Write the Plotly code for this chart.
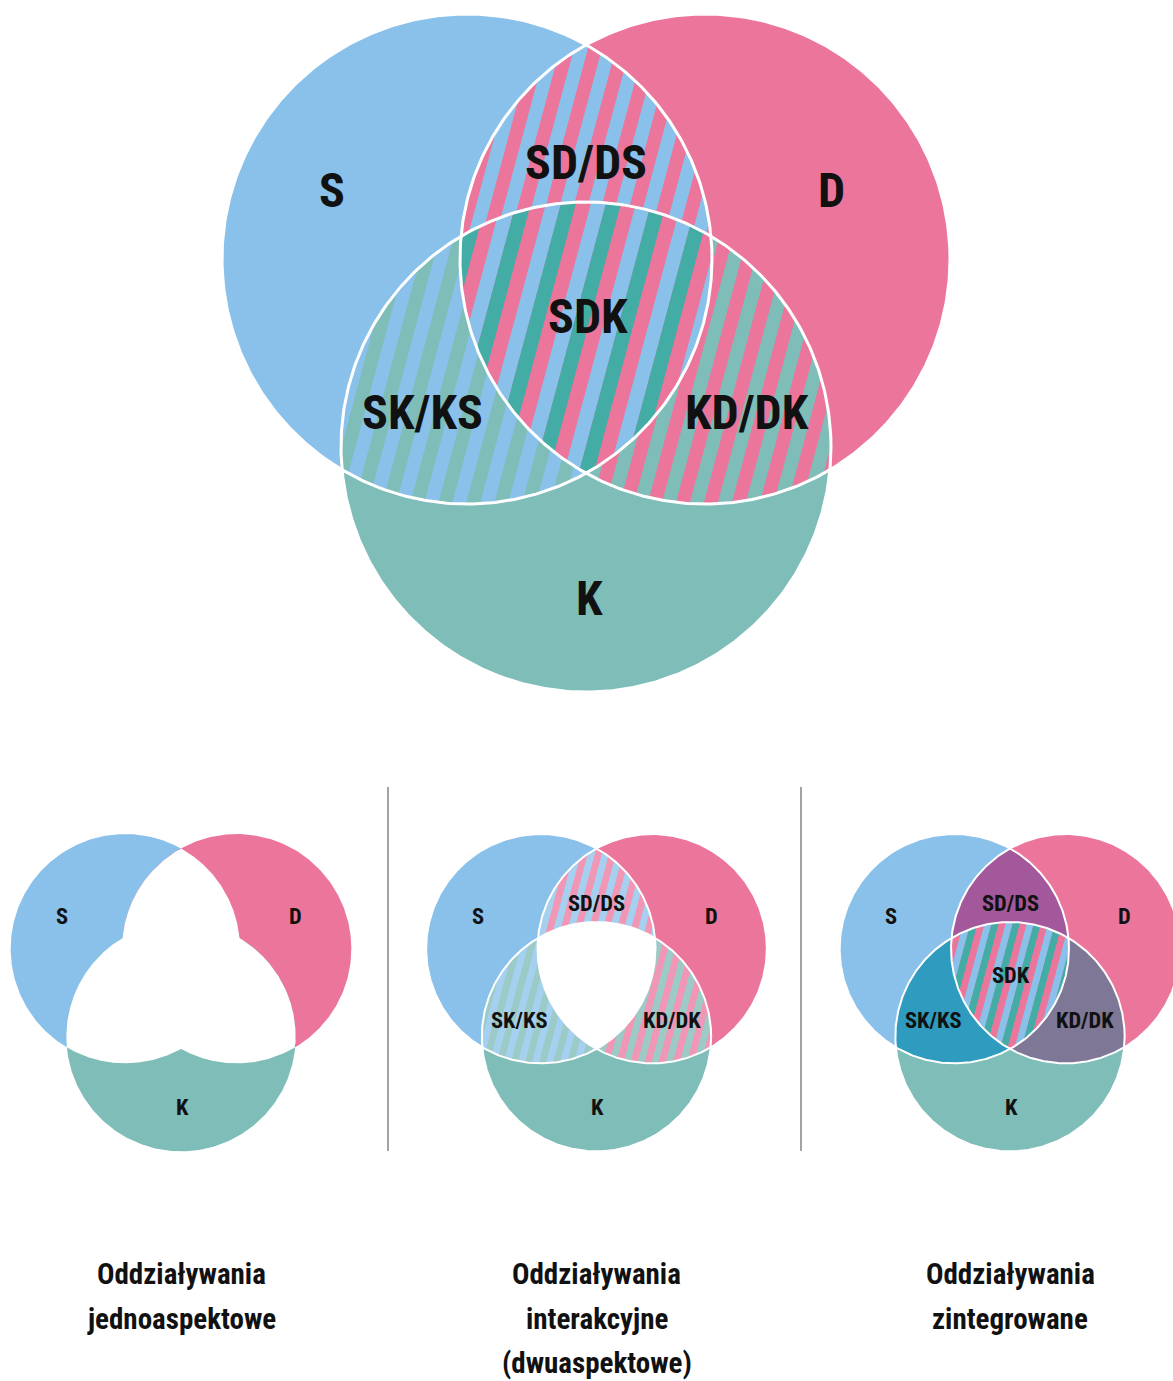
import numpy as np
import plotly.graph_objects as go

# ---------------- data ----------------
SET_LABELS = ["S", "D", "K"]                      # single aspects
PAIR_LABELS = ["SD/DS", "SK/KS", "KD/DK"]         # two-aspect interactions
TRIPLE_LABEL = "SDK"                              # integrated interaction
PANEL_CAPTIONS = [
    ["Oddziaływania", "jednoaspektowe"],
    ["Oddziaływania", "interakcyjne", "(dwuaspektowe)"],
    ["Oddziaływania", "zintegrowane"],
]
PANEL_KINDS = ["single", "pairwise", "integrated"]

# ---------------- styles / geometry ----------------
W, H = 1173, 1381
FONT = "Roboto Condensed, Roboto, sans-serif"
TXT = "#111111"
BLUE, PINK, TEAL, DTEAL = "#8AC1EA", "#EC759C", "#7FBDB9", "#42ACA5"
LBLUE, LPINK, LTEAL = "#A6D0F0", "#F296B5", "#9CCBC7"
SOLID_PAIRS = ["#A2589A", "#2E9BBF", "#7E7795"]
SET_COLORS = [BLUE, PINK, TEAL]
PAIRS = [(0, 1), (0, 2), (1, 2)]

R_MAIN = 245
CENTER_OFF = [(-119, 0), (119, 0), (0, 188)]
SET_LABEL_OFF = [(-254, -69), (245, -69), (3, 339)]
PAIR_LABEL_OFF = [(0, -97), (-164, 153), (161, 153)]
TRIPLE_LABEL_OFF = (2, 57)

MAIN_ORIGIN, MAIN_SCALE = (586, 259), 1.0
SMALL_SCALE = 0.468
SMALL_CX = [181, 596.5, 1010]
SMALL_CY = 948.7
CAPTION_Y = [1274, 1319, 1363]
CAPTION_SIZE = 29
SEP_X = [388, 801]
SEP_Y = (787, 1151)

PHI = np.radians(15)
NVEC = np.array([np.cos(PHI), np.sin(PHI)])
VVEC = np.array([np.sin(PHI), -np.cos(PHI)])


def circle_xy(c, r, n=480):
    t = np.linspace(0, 2 * np.pi, n)
    return c[0] + r * np.cos(t), c[1] + r * np.sin(t)


def region_poly(discs, n=1440):
    P = np.mean([c for c, r in discs], axis=0)
    th = np.linspace(0, 2 * np.pi, n, endpoint=False)
    d = np.stack([np.cos(th), np.sin(th)], 1)
    t = np.full(n, np.inf)
    for c, r in discs:
        w = P - c
        b = d @ w
        cc = w @ w - r * r
        t = np.minimum(t, -b + np.sqrt(b * b - cc))
    return P + d * t[:, None]


def stripe_polys(discs, width, ncol):
    pts = region_poly(discs)
    u = pts @ NVEC
    umin, umax = u.min(), u.max()
    out = [[] for _ in range(ncol)]
    for k in range(int(np.floor(umin / width)), int(np.ceil(umax / width))):
        a, b = max(k * width, umin), min((k + 1) * width, umax)
        if b <= a:
            continue
        us = np.linspace(a, b, 14)
        lo = np.full(len(us), -np.inf)
        hi = np.full(len(us), np.inf)
        ok = np.ones(len(us), bool)
        for c, r in discs:
            cu, cv = c @ NVEC, c @ VVEC
            dd = r * r - (us - cu) ** 2
            ok &= dd >= 0
            h = np.sqrt(np.clip(dd, 0, None))
            lo = np.maximum(lo, cv - h)
            hi = np.minimum(hi, cv + h)
        ok &= hi >= lo
        if ok.sum() < 2:
            continue
        uu, l, hh = us[ok], lo[ok], hi[ok]
        p_lo = uu[:, None] * NVEC + l[:, None] * VVEC
        p_hi = uu[:, None] * NVEC + hh[:, None] * VVEC
        out[k % ncol].append(np.vstack([p_lo, p_hi[::-1]]))
    return out


def fill_trace(polys, color):
    xs, ys = [], []
    for p in polys:
        xs += list(p[:, 0]) + [p[0, 0], None]
        ys += list(p[:, 1]) + [p[0, 1], None]
    return go.Scatter(x=xs, y=ys, mode="lines", fill="toself", fillcolor=color,
                      line=dict(width=0, color=color), hoverinfo="skip")


def striped(discs, colors, width):
    tr = [fill_trace([region_poly(discs)], colors[0])]
    bands = stripe_polys(discs, width, len(colors))
    for i in range(1, len(colors)):
        if bands[i]:
            tr.append(fill_trace(bands[i], colors[i]))
    return tr


fig = go.Figure()
annotations = []


def add_label(text, x, y, size):
    annotations.append(dict(x=x, y=y, xref="x", yref="y", text="<b>%s</b>" % text,
                            showarrow=False, xanchor="center", yanchor="middle",
                            font=dict(family=FONT, size=size, color=TXT)))


def diagram(kind, origin, scale):
    centers = [np.array([origin[0] + dx * scale, origin[1] + dy * scale]) for dx, dy in CENTER_OFF]
    r = R_MAIN * scale
    discs = [(c, r) for c in centers]
    traces = []
    for i, c in enumerate(centers):
        x, y = circle_xy(c, r)
        traces.append(go.Scatter(x=x, y=y, mode="lines", fill="toself", fillcolor=SET_COLORS[i],
                                 line=dict(width=0, color=SET_COLORS[i]), hoverinfo="skip"))
    outline = False
    if kind == "single":
        for i, j in PAIRS:
            traces.append(fill_trace([region_poly([discs[i], discs[j]])], "white"))
    elif kind in ("main", "pairwise"):
        if kind == "main":
            pc = [(BLUE, PINK), (BLUE, TEAL), (PINK, TEAL)]
            w = 13.5
        else:
            pc = [(LBLUE, LPINK), (LBLUE, LTEAL), (LPINK, LTEAL)]
            w = 6.8
        for (i, j), cols in zip(PAIRS, pc):
            traces += striped([discs[i], discs[j]], cols, w)
        if kind == "main":
            traces += striped(discs, [PINK, BLUE, DTEAL], 14.5)
        else:
            traces.append(fill_trace([region_poly(discs)], "white"))
        outline = True
    else:
        for (i, j), col in zip(PAIRS, SOLID_PAIRS):
            traces.append(fill_trace([region_poly([discs[i], discs[j]])], col))
        traces += striped(discs, [PINK, BLUE, DTEAL], 6.8)
        outline = True
    if outline:
        for c in centers:
            x, y = circle_xy(c, r)
            traces.append(go.Scatter(x=x, y=y, mode="lines",
                                     line=dict(width=3 if kind == "main" else 2, color="white"),
                                     hoverinfo="skip"))
    for t in traces:
        fig.add_trace(t)

    size = 48 * scale
    for lab, (dx, dy) in zip(SET_LABELS, SET_LABEL_OFF):
        add_label(lab, origin[0] + dx * scale, origin[1] + dy * scale, size)
    if kind != "single":
        for lab, (dx, dy) in zip(PAIR_LABELS, PAIR_LABEL_OFF):
            add_label(lab, origin[0] + dx * scale, origin[1] + dy * scale, size)
    if kind in ("main", "integrated"):
        dx, dy = TRIPLE_LABEL_OFF
        add_label(TRIPLE_LABEL, origin[0] + dx * scale, origin[1] + dy * scale, size)


diagram("main", MAIN_ORIGIN, MAIN_SCALE)
for kind, cx, cap in zip(PANEL_KINDS, SMALL_CX, PANEL_CAPTIONS):
    diagram(kind, (cx, SMALL_CY), SMALL_SCALE)
    for line, y in zip(cap, CAPTION_Y):
        add_label(line, cx, y, CAPTION_SIZE)

for sx in SEP_X:
    fig.add_trace(go.Scatter(x=[sx, sx], y=list(SEP_Y), mode="lines",
                             line=dict(width=2, color="#A3A3A3"), hoverinfo="skip"))

fig.update_layout(
    width=W, height=H, autosize=False,
    margin=dict(l=0, r=0, t=0, b=0, pad=0),
    paper_bgcolor="white", plot_bgcolor="white", showlegend=False,
    xaxis=dict(range=[0, W], visible=False, fixedrange=True),
    yaxis=dict(range=[H, 0], visible=False, fixedrange=True),
    annotations=annotations,
)

fig.write_html("out.html", config={"displayModeBar": False},
               post_script="document.body.style.margin='0px';document.body.style.overflow='hidden';")
